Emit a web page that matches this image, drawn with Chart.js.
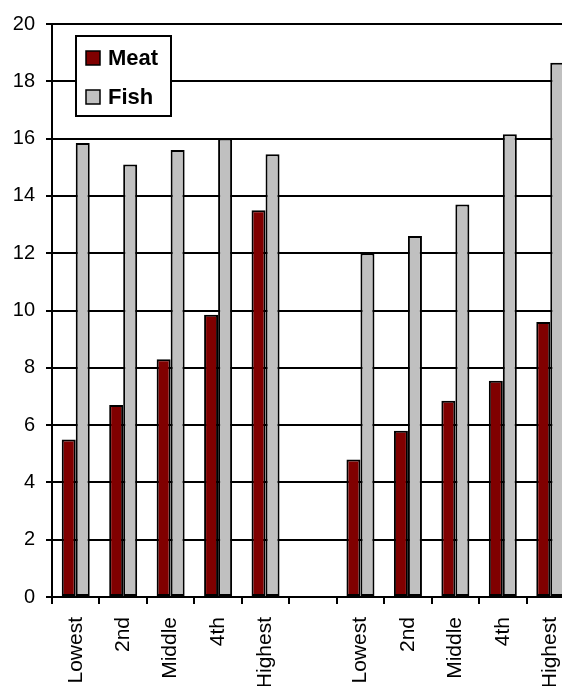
<!DOCTYPE html>
<html>
<head>
<meta charset="utf-8">
<script src="https://cdn.jsdelivr.net/npm/chart.js@4/dist/chart.umd.min.js"></script>
<style>
  html, body { margin: 0; padding: 0; background: #fff; overflow: hidden; }
  #wrap { position: relative; width: 600px; height: 686px; }
</style>
</head>
<body>
<div id="wrap"><canvas id="c"></canvas></div>
<script>
// Income groups, two blocks separated by an empty slot
const categories = ['Lowest', '2nd', 'Middle', '4th', 'Highest', '', 'Lowest', '2nd', 'Middle', '4th', 'Highest'];
const meatValues = [5.5, 6.7, 8.3, 9.85, 13.5, null, 4.8, 5.8, 6.85, 7.55, 9.6];
const fishValues = [15.85, 15.1, 15.6, 16.0, 15.45, null, 12.0, 12.6, 13.7, 16.15, 18.65];
const seriesNames = ['Meat', 'Fish'];
const yMin = 0, yMax = 20, yStep = 2;

const FONT = "'Liberation Sans', Arial, sans-serif";

// Boxed legend drawn inside the plot area, top-left
const boxedLegend = {
  id: 'boxedLegend',
  afterDraw(chart) {
    const ctx = chart.ctx;
    const x0 = 76, y0 = 36, w = 95, h = 80;
    ctx.save();
    ctx.fillStyle = '#fff';
    ctx.fillRect(x0, y0, w, h);
    ctx.lineWidth = 2;
    ctx.strokeStyle = '#000';
    ctx.strokeRect(x0, y0, w, h);
    ctx.font = 'bold 22px ' + FONT;
    ctx.textBaseline = 'middle';
    chart.data.datasets.forEach((ds, i) => {
      const cy = 58 + i * 39;
      ctx.fillStyle = ds.backgroundColor;
      ctx.fillRect(86, cy - 7, 14, 14);
      ctx.lineWidth = 1.5;
      ctx.strokeStyle = '#000';
      ctx.strokeRect(86, cy - 7, 14, 14);
      ctx.fillStyle = '#000';
      ctx.fillText(ds.label, 108, cy + 1);
    });
    ctx.restore();
  }
};

new Chart(document.getElementById('c'), {
  type: 'bar',
  data: {
    labels: categories,
    datasets: [
      { label: seriesNames[0], data: meatValues, backgroundColor: '#800000', borderColor: '#000', borderWidth: 2, borderSkipped: false },
      { label: seriesNames[1], data: fishValues, backgroundColor: '#C0C0C0', borderColor: '#000', borderWidth: 2, borderSkipped: false }
    ]
  },
  options: {
    responsive: true,
    maintainAspectRatio: false,
    animation: false,
    events: [],
    layout: { padding: { top: 24, left: 0, right: 26, bottom: 0 } },
    datasets: { bar: { categoryPercentage: 0.59, barPercentage: 1.0 } },
    plugins: { legend: { display: false }, tooltip: { enabled: false } },
    scales: {
      x: {
        grid: { offset: true, drawOnChartArea: false, color: '#000', lineWidth: 2, tickLength: 7 },
        border: { color: '#000', width: 2 },
        ticks: { minRotation: 90, maxRotation: 90, autoSkip: false, color: '#000', padding: 13, font: { family: FONT, size: 21 } },
        afterFit(scale) { scale.height = 89; }
      },
      y: {
        min: yMin, max: yMax,
        grid: { color: '#000', lineWidth: 2, tickLength: 6 },
        border: { color: '#000', width: 2 },
        ticks: { stepSize: yStep, color: '#000', padding: 11, font: { family: FONT, size: 20 } },
        afterFit(scale) { scale.width = 52; }
      }
    }
  },
  plugins: [boxedLegend]
});
</script>
</body>
</html>
